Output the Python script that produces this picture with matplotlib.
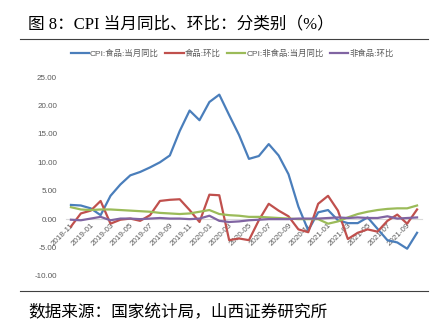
import matplotlib.pyplot as plt
from matplotlib.lines import Line2D

months = ["2018-11", "2018-12"] + [f"{y}-{m:02d}" for y in (2019, 2020) for m in range(1, 13)] + \
    [f"2021-{m:02d}" for m in range(1, 11)]

food_yoy = [2.5, 2.4, 1.9, 0.7, 4.1, 6.1, 7.7, 8.3, 9.1, 10.0, 11.2, 15.5,
            19.1, 17.4, 20.6, 21.9, 18.3, 14.8, 10.6, 11.1, 13.2, 11.2, 7.9, 2.2,
            -2.0, 1.2, 1.6, -0.2, -0.7, -0.7, 0.3, -1.7, -3.7, -4.1, -5.2, -2.4]
food_mom = [-1.3, 1.0, 1.5, 3.2, -0.8, -0.1, 0.1, -0.3, 0.7, 3.2, 3.4, 3.5,
            1.6, -0.5, 4.3, 4.2, -3.7, -3.4, -3.7, -0.2, 2.7, 1.5, 0.5, -1.8,
            -2.3, 2.7, 4.1, 1.5, -3.5, -2.4, -1.8, -2.2, -0.3, 0.8, -0.8, 1.7]
nonfood_yoy = [2.1, 1.7, 1.6, 1.7, 1.7, 1.6, 1.5, 1.4, 1.3, 1.1, 1.0, 0.9,
               1.0, 1.3, 1.6, 0.9, 0.7, 0.6, 0.4, 0.4, 0.3, 0.2, 0.1, 0.0,
               0.0, 0.0, -0.8, -0.4, 0.3, 0.9, 1.3, 1.6, 1.8, 1.9, 1.9, 2.4]
nonfood_mom = [-0.1, -0.2, 0.1, 0.4, -0.2, 0.1, 0.1, 0.0, 0.1, 0.2, 0.1, 0.1,
               0.0, 0.1, 0.6, -0.3, -0.5, -0.4, -0.2, -0.1, 0.0, 0.0, 0.0, 0.1,
               0.1, 0.1, 0.2, 0.3, 0.2, 0.3, 0.2, 0.2, 0.5, 0.1, 0.2, 0.3]

series = [
    ("CPI:食品:当月同比", food_yoy, "#4A7EBB"),
    ("食品:环比", food_mom, "#C0504D"),
    ("CPI:非食品:当月同比", nonfood_yoy, "#9BBB59"),
    ("非食品:环比", nonfood_mom, "#8064A2"),
]
yticks = [-10, -5, 0, 5, 10, 15, 20, 25]

plt.rcParams["font.family"] = ["Liberation Sans", "Noto Sans CJK SC"]

W, H = 438, 324
fig = plt.figure(figsize=(W / 100, H / 100), dpi=100)
ax = fig.add_axes([66 / W, 1 - 276 / H, (422 - 66) / W, (276 - 77) / H])

x = list(range(len(months)))
for label, vals, color in series:
    ax.plot(x, vals, color=color, lw=1.6, label=label)

# zero line doubles as the category axis; move it before labelling (moving resets ticks)
for side in ("top", "right", "left"):
    ax.spines[side].set_visible(False)
ax.spines["bottom"].set_position(("data", 0))
ax.spines["bottom"].set_color("#D9D9D9")
ax.spines["bottom"].set_zorder(0)

ax.set_xlim(-0.5, len(months) - 0.5)
ax.set_ylim(-10, 25)
ax.set_yticks(yticks)
ax.set_yticklabels([f"{v:.2f}" for v in yticks])
ax.set_xticks(x[::2])
ax.set_xticklabels(months[::2])
ax.tick_params(axis="both", length=0, labelsize=5.8, labelcolor="#595959")
ax.tick_params(axis="y", pad=6.5)
ax.tick_params(axis="x", pad=2)
for t in ax.get_xticklabels():
    t.set_rotation(45)
    t.set_ha("right")
    t.set_va("top")
    t.set_rotation_mode("anchor")

ax.legend(loc="center", bbox_to_anchor=(232 / W, 1 - 54 / H), bbox_transform=fig.transFigure,
          ncol=4, frameon=False, fontsize=6, handlelength=2.2, handletextpad=0.1,
          columnspacing=0.8, labelcolor="#595959")

fig.text(28 / W, 1 - 24 / H, "图 8：CPI 当月同比、环比：分类别（%）", fontsize=12, va="center",
         family=["Liberation Serif", "Noto Sans CJK SC"])
fig.text(28 / W, 1 - 313 / H, "数据来源：国家统计局，山西证券研究所", fontsize=12, va="center",
         family=["Noto Sans CJK SC"])
for yy in (39, 291):
    fig.add_artist(Line2D([20 / W, 428 / W], [1 - yy / H] * 2, color="#404040", lw=0.8))

fig.savefig("out.png", dpi=100)
